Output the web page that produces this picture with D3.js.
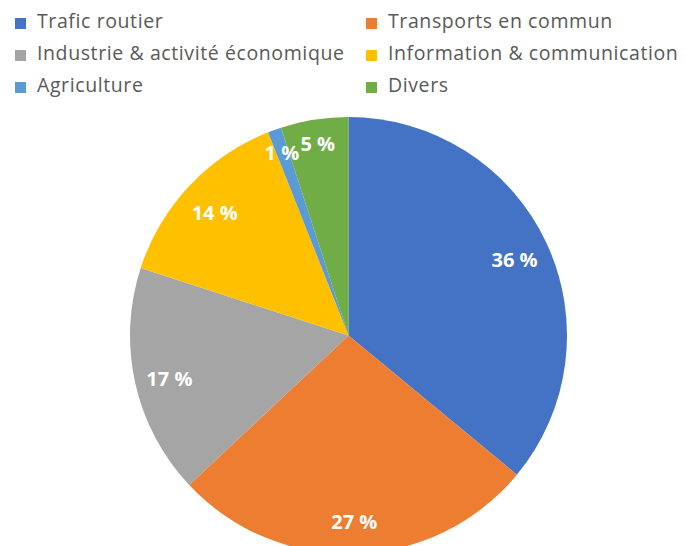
<!DOCTYPE html>
<html>
<head>
<meta charset="utf-8">
<script src="https://cdn.jsdelivr.net/npm/d3@7"></script>
<style>
  html, body { margin: 0; padding: 0; background: #fff; }
  svg { display: block; }
</style>
</head>
<body>
<svg id="chart" width="686" height="546"></svg>
<script>
// Répartition par secteur (en %)
const categories = [
  "Trafic routier",
  "Transports en commun",
  "Industrie & activité économique",
  "Information & communication",
  "Agriculture",
  "Divers"
];
const values = [36, 27, 17, 14, 1, 5];
const colors = ["#4472C4", "#ED7D31", "#A5A5A5", "#FFC000", "#5B9BD5", "#70AD47"];

const svg = d3.select("#chart");
const font = "'Open Sans', Lato, sans-serif";

// Légende sur deux colonnes
const legendCols = [15, 366];
const legendRow0 = 18, legendStep = 32;
const legend = svg.append("g");
categories.forEach((name, i) => {
  const col = i % 2, row = Math.floor(i / 2);
  const g = legend.append("g")
    .attr("transform", `translate(${legendCols[col]},${legendRow0 + row * legendStep})`);
  g.append("rect").attr("width", 11).attr("height", 11).attr("fill", colors[i]);
  g.append("text")
    .attr("x", 22).attr("y", 10)
    .attr("font-family", font)
    .attr("font-size", 19.5)
    .attr("letter-spacing", 0.6)
    .attr("fill", "#595959")
    .text(name);
});

// Camembert
const cx = 348.5, cy = 335.5, radius = 218.5;
const pie = d3.pie().sort(null).value(d => d)(values);
const arc = d3.arc().innerRadius(0).outerRadius(radius);
const g = svg.append("g").attr("transform", `translate(${cx},${cy})`);

g.selectAll("path.slice")
  .data(pie)
  .join("path")
  .attr("class", "slice")
  .attr("d", arc)
  .attr("fill", (d, i) => colors[i]);

// Étiquettes de pourcentage
const labelPos = d => {
  const f = d.value < 6 ? 0.9 : 0.84;
  return d3.arc().innerRadius(radius * f).outerRadius(radius * f).centroid(d);
};
g.selectAll("text.lbl")
  .data(pie)
  .join("text")
  .attr("class", "lbl")
  .attr("transform", d => `translate(${labelPos(d)})`)
  .attr("text-anchor", "middle")
  .attr("dy", "0.5em")
  .attr("font-family", font)
  .attr("font-weight", "bold")
  .attr("font-size", 20)
  .attr("fill", "#fff")
  .text(d => `${d.value} %`);
</script>
</body>
</html>
